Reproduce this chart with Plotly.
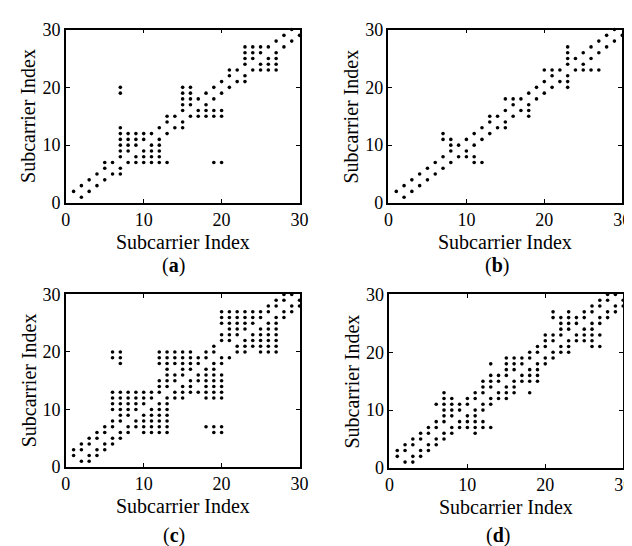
import plotly.graph_objects as go

# Each panel: subcarrier index (column) -> list of subcarrier indices marked in that column
panel_a = {
    1: [2], 2: [1, 3], 3: [2, 4], 4: [3, 5], 5: [4, 6, 7], 6: [5, 7],
    7: [5, 6, 8, 9, 10, 11, 12, 13, 19, 20], 8: [7, 9, 10, 11, 12],
    9: [7, 8, 10, 11, 12], 10: [7, 8, 9, 11, 12], 11: [7, 8, 9, 10, 12],
    12: [7, 8, 9, 10, 11, 13], 13: [7, 12, 14, 15], 14: [13, 15],
    15: [13, 14, 16, 17, 18, 19, 20], 16: [15, 17, 18, 19, 20], 17: [15, 16, 18],
    18: [15, 16, 17, 19], 19: [7, 15, 16, 18, 20], 20: [7, 15, 16, 19, 21],
    21: [20, 22, 23], 22: [21, 23], 23: [21, 22, 24, 25, 26, 27],
    24: [23, 25, 26, 27], 25: [23, 24, 26, 27], 26: [23, 24, 25, 27],
    27: [23, 24, 25, 26, 28], 28: [27, 29], 29: [28, 30], 30: [29],
}
panel_b = {
    1: [2], 2: [1, 3], 3: [2, 4], 4: [3, 5], 5: [4, 6], 6: [5, 7],
    7: [6, 8, 11, 12], 8: [7, 9, 10, 11], 9: [8, 10], 10: [8, 9, 11],
    11: [7, 8, 10, 12], 12: [7, 11, 13], 13: [12, 14, 15], 14: [13, 15],
    15: [13, 14, 16, 18], 16: [15, 17, 18], 17: [16, 18], 18: [15, 16, 17, 19],
    19: [18, 20], 20: [19, 21, 23], 21: [20, 22, 23], 22: [21, 23],
    23: [20, 21, 22, 24, 25, 26, 27], 24: [23, 25], 25: [23, 24, 26],
    26: [23, 25, 27], 27: [23, 26, 28], 28: [27, 29], 29: [28, 30], 30: [29],
}
panel_c = {
    1: [2, 3], 2: [1, 3, 4], 3: [1, 2, 4, 5], 4: [2, 3, 5, 6], 5: [3, 4, 6, 7],
    6: [4, 5, 7, 8, 10, 11, 12, 13, 19, 20],
    7: [5, 6, 8, 9, 10, 11, 12, 13, 18, 19, 20],
    8: [6, 7, 9, 10, 11, 12, 13], 9: [7, 8, 10, 11, 12, 13],
    10: [6, 7, 8, 9, 11, 12, 13], 11: [6, 7, 8, 9, 10, 12, 13],
    12: [6, 7, 8, 9, 10, 11, 13, 14, 15, 18, 19, 20],
    13: [6, 7, 8, 9, 10, 11, 12, 14, 15, 16, 17, 18, 19, 20],
    14: [12, 13, 15, 16, 18, 19, 20], 15: [12, 13, 14, 16, 17, 18, 19, 20],
    16: [13, 14, 15, 17, 18, 19, 20], 17: [13, 15, 16, 18, 19],
    18: [7, 12, 13, 14, 15, 16, 17, 19, 20],
    19: [6, 7, 12, 13, 14, 15, 16, 17, 18, 20, 21],
    20: [6, 7, 12, 13, 14, 15, 16, 18, 19, 22, 23, 25, 26, 27],
    21: [19, 22, 23, 24, 25, 26, 27], 22: [20, 21, 23, 24, 25, 26, 27],
    23: [20, 21, 22, 24, 25, 26, 27], 24: [21, 22, 23, 25, 26, 27],
    25: [20, 21, 22, 23, 24, 26, 27], 26: [20, 21, 22, 23, 24, 25, 27, 28],
    27: [20, 21, 22, 23, 24, 25, 26, 28, 29], 28: [26, 27, 29, 30],
    29: [27, 28, 30], 30: [28, 29],
}
panel_d = {
    1: [2, 3], 2: [1, 3, 4], 3: [1, 2, 4, 5], 4: [2, 3, 5, 6], 5: [3, 4, 6, 7],
    6: [4, 5, 7, 8, 11], 7: [5, 6, 8, 9, 10, 11, 12, 13], 8: [6, 7, 9, 10, 11, 12],
    9: [7, 8, 10, 11], 10: [7, 8, 9, 11, 12], 11: [6, 7, 8, 9, 10, 12, 13],
    12: [7, 8, 10, 11, 13, 14, 15], 13: [7, 11, 12, 14, 15, 16, 18],
    14: [12, 13, 15, 16], 15: [12, 13, 14, 16, 17, 18, 19],
    16: [13, 14, 15, 17, 18, 19], 17: [15, 16, 18, 19], 18: [13, 15, 16, 17, 19, 20],
    19: [15, 16, 17, 18, 20, 21], 20: [18, 19, 21, 22, 23],
    21: [19, 20, 22, 23, 26, 27], 22: [20, 21, 23, 24, 25, 26],
    23: [20, 21, 22, 24, 25, 26, 27], 24: [22, 23, 25, 26],
    25: [22, 23, 24, 26, 27], 26: [21, 22, 23, 24, 25, 27, 28],
    27: [21, 23, 25, 26, 28, 29], 28: [26, 27, 29, 30], 29: [27, 28, 30], 30: [28, 29],
}

tick_vals = [0, 10, 20, 30]
tick_text = ["0", "10", "20", "30"]
axis_title = "Subcarrier Index"
panel_labels = ["(<b>a</b>)", "(<b>b</b>)", "(<b>c</b>)", "(<b>d</b>)"]

W, H = 632, 546
FONT = "Times New Roman, Liberation Serif, serif"

# pixel boxes of plot areas: (left, right, top, bottom)
boxes = [(54, 293, 12, 192), (384, 623, 12, 192), (54, 293, 287, 466), (385, 624, 287, 467)]
panels = [panel_a, panel_b, panel_c, panel_d]

fig = go.Figure()
for k, (panel, box) in enumerate(zip(panels, boxes)):
    xs, ys = [], []
    for col, rows in panel.items():
        for r in rows:
            xs.append(col)
            ys.append(r)
    sfx = "" if k == 0 else str(k + 1)
    fig.add_trace(go.Scatter(
        x=xs, y=ys, mode="markers", xaxis="x" + sfx, yaxis="y" + sfx,
        marker=dict(color="black", size=3.6, line=dict(width=0)),
        cliponaxis=False, showlegend=False, hoverinfo="skip"))
    l, r, t, b = box
    common = dict(range=[0, 30], tickvals=tick_vals, ticktext=tick_text,
                  ticks="inside", ticklen=4, tickwidth=1, tickcolor="black",
                  showline=True, linewidth=1.5, linecolor="black", mirror="ticks",
                  showgrid=False, zeroline=False, fixedrange=True,
                  tickfont=dict(family=FONT, size=18, color="black"))
    fig.layout["xaxis" + sfx] = dict(domain=[l / W, r / W], anchor="y" + sfx, **common)
    fig.layout["yaxis" + sfx] = dict(domain=[1 - b / H, 1 - t / H], anchor="x" + sfx, **common)

    cx = (l + r) / 2
    cy = (t + b) / 2
    title_y = b + 41
    label_y = b + 65 if k < 2 else 537
    fig.add_annotation(x=cx / W, y=1 - title_y / H, xref="paper", yref="paper",
                       text=axis_title, showarrow=False, xanchor="center", yanchor="middle",
                       font=dict(family=FONT, size=20, color="black"))
    fig.add_annotation(x=(l - 38) / W, y=1 - cy / H, xref="paper", yref="paper",
                       text=axis_title, textangle=-90, showarrow=False,
                       xanchor="center", yanchor="middle",
                       font=dict(family=FONT, size=20, color="black"))
    fig.add_annotation(x=(cx - 9) / W, y=1 - label_y / H, xref="paper", yref="paper",
                       text=panel_labels[k], showarrow=False, xanchor="center", yanchor="middle",
                       font=dict(family=FONT, size=20, color="black"))

fig.update_layout(width=W, height=H, margin=dict(l=0, r=0, t=0, b=0),
                  paper_bgcolor="white", plot_bgcolor="white")
fig.write_html("out.html")
